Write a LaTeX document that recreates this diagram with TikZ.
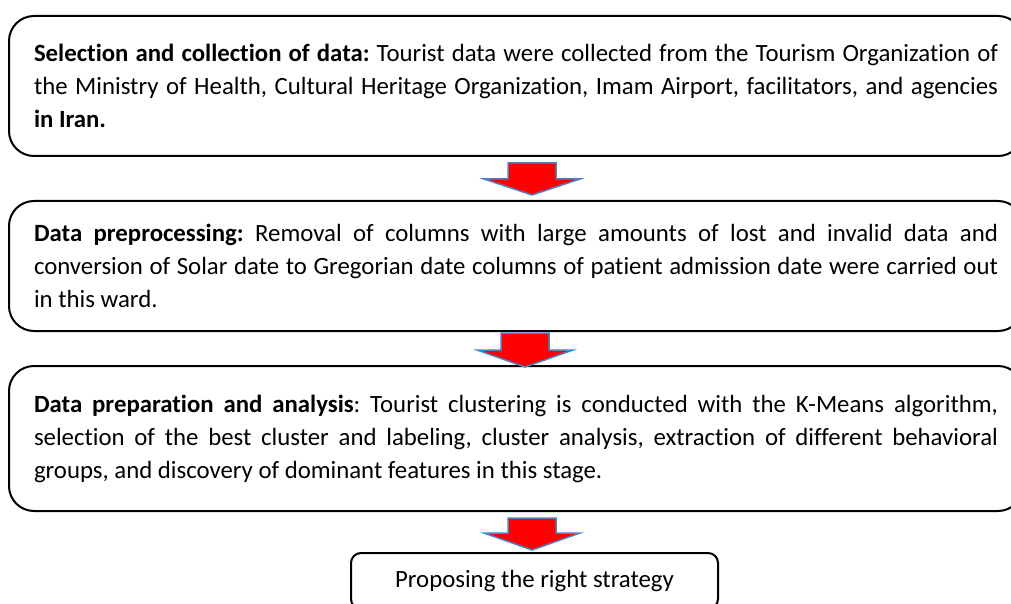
\documentclass[tikz,border=0pt]{standalone}
\usepackage{fontspec}
\setmainfont{Carlito}[Ligatures=NoCommon]
\definecolor{arrowblue}{RGB}{79,129,189}
\hyphenpenalty=10000
\frenchspacing
\begin{document}
\begin{tikzpicture}[
  x=0.5pt, y=-0.5pt,
  txt/.style={font=\fontsize{12.4}{16.5}\selectfont},
  stagebox/.style={txt, draw, line width=1pt, rounded corners=12.5pt, anchor=north west,
    text width=482pt, inner xsep=12.5pt, inner ysep=0pt, align=justify},
  endbox/.style={txt, draw, line width=1pt, rounded corners=5pt, anchor=north west,
    minimum width=183.5pt, minimum height=28pt, inner sep=0pt},
  blockarr/.style={draw=arrowblue, fill=red, line width=0.75pt}
]
\useasboundingbox (0,0) rectangle (1011,604);

% --- stage boxes ---
\node[stagebox, minimum height=70pt] (select) at (8,15)
  {\textbf{Selection and collection of data:} Tourist data were collected from the Tourism Organization of\linebreak
   the Ministry of Health, Cultural Heritage Organization, Imam Airport, facilitators, and agencies\linebreak
   \textbf{in Iran.}};
\node[stagebox, minimum height=65pt] (prep) at (8,200)
  {\textbf{Data preprocessing:} Removal of columns with large amounts of lost and invalid data and\linebreak
   conversion of Solar date to Gregorian date columns of patient admission date were carried out\linebreak
   in this ward.};
\node[stagebox, minimum height=72.5pt] (anal) at (8,365)
  {\textbf{Data preparation and analysis}: Tourist clustering is conducted with the K-Means algorithm,\linebreak
   selection of the best cluster and labeling, cluster analysis, extraction of different behavioral\linebreak
   groups, and discovery of dominant features in this stage.};

% --- final box (cut by the page edge) ---
\node[endbox] (strat) at (350,552) {Proposing the right strategy};

% --- block arrows between stages ---
\draw[blockarr] (508,163) -- ++(48,0) -- ++(0,16) -- ++(24,0) -- ++(-48,16) -- ++(-48,-16) -- ++(24,0) -- cycle;
\draw[blockarr] (501,333) -- ++(48,0) -- ++(0,17) -- ++(24,0) -- ++(-48,17) -- ++(-48,-17) -- ++(24,0) -- cycle;
\draw[blockarr] (508,518) -- ++(48,0) -- ++(0,15) -- ++(24,0) -- ++(-48,17) -- ++(-48,-17) -- ++(24,0) -- cycle;

\end{tikzpicture}
\end{document}
